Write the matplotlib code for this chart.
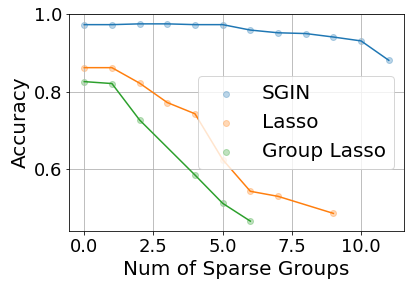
import numpy as np
import matplotlib
matplotlib.use('Agg')
from matplotlib import pyplot as plt
from matplotlib.ticker import MultipleLocator

sgin_x = [0, 1, 2, 3, 4, 5, 6, 7, 8, 9, 10, 11]
sgin_acc = [0.973, 0.973, 0.975, 0.975, 0.973, 0.973, 0.959, 0.952, 0.950, 0.941, 0.931, 0.881]

lasso_x = [0, 1, 2, 3, 4, 5, 6, 7, 9]
lasso_acc = [0.862, 0.862, 0.822, 0.772, 0.743, 0.625, 0.543, 0.530, 0.486]

glasso_x = [0, 1, 2, 4, 5, 6]
glasso_acc = [0.826, 0.821, 0.727, 0.585, 0.512, 0.466]

fig = plt.figure(figsize=(414/72, 287/72), dpi=72)
ax = fig.add_axes([69/414, 1 - 231/287, (404-69)/414, (231-14)/287])

for x, y, name, c in [(sgin_x, sgin_acc, 'SGIN', 'C0'),
                      (lasso_x, lasso_acc, 'Lasso', 'C1'),
                      (glasso_x, glasso_acc, 'Group Lasso', 'C2')]:
    ax.scatter(x, y, alpha=0.3, color=c, label=name)
    ax.plot(x, y, color=c)

ax.yaxis.set_major_locator(MultipleLocator(0.2))
ax.grid(True)
ax.set_xlabel('Num of Sparse Groups', fontsize=20)
ax.set_ylabel('Accuracy', fontsize=20)
ax.tick_params(labelsize=18)
ax.legend(fontsize=20, loc='center right')
fig.savefig('out.png', dpi=72)
